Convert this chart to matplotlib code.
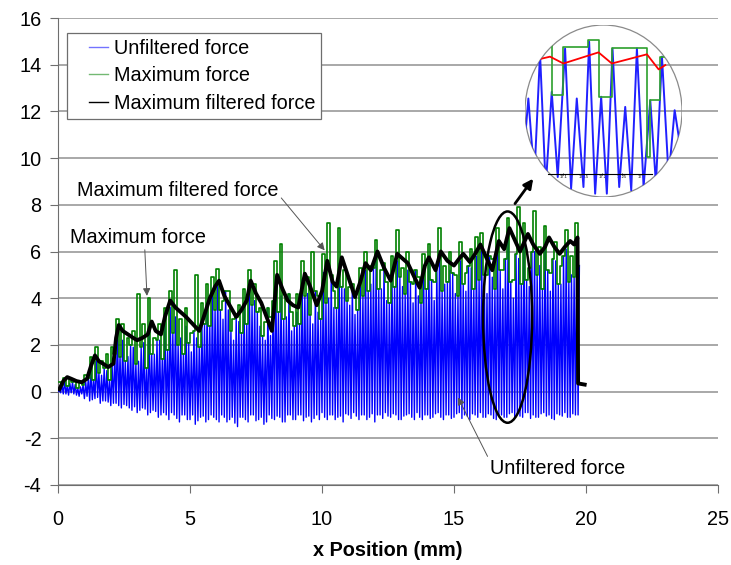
import numpy as np
import matplotlib
matplotlib.use('Agg')
import matplotlib.pyplot as plt
from matplotlib.patches import Ellipse

plt.rcParams['font.family'] = ['Liberation Sans', 'DejaVu Sans']
plt.rcParams['axes.unicode_minus'] = False

# one double oscillation every 0.2 mm: a tall peak followed by a medium one
cycle_x = np.round(np.arange(0.05, 19.7, 0.2), 2)
blue_peak = [0.05, 0.45, 0.35, 0.3, 0.2,
             0.4, 0.9, 1.3, 0.7, 0.9,
             1.1, 2.6, 2.2, 1.5, 1.9,
             1.3, 2.1, 2.7, 1.6, 2.2,
             2.9, 3.6, 3.2, 2.3, 2.8,
             1.7, 2.3, 3.0, 3.8, 4.3,
             4.5, 3.1, 3.5, 2.2, 3.0,
             3.6, 4.5, 3.9, 2.8, 2.2,
             2.4, 4.8, 4.1, 3.2, 2.6,
             3.4, 4.8, 4.2, 2.9, 3.4,
             5.1, 4.0, 3.6, 5.5, 4.4,
             3.7, 3.3, 4.5, 5.2, 4.6,
             5.7, 4.4, 3.9, 5.0, 5.6,
             4.5, 5.2, 3.8, 4.1, 5.1,
             5.5, 3.9, 5.7, 4.6, 5.2,
             4.2, 5.6, 4.3, 5.3, 5.8,
             6.0, 4.2, 4.9, 6.2, 4.4,
             6.7, 4.0, 5.7, 6.4, 4.5,
             6.0, 5.4, 6.3, 4.3, 5.6,
             4.6, 6.1, 5.0, 6.4]
blue_mid = [0.3, 0.25, 0.4, 0.15, 0.3,
            0.6, 0.5, 0.8, 1.0, 0.5,
            1.6, 1.5, 1.3, 2.0, 1.2,
            1.9, 1.0, 1.6, 2.2, 1.4,
            1.8, 2.5, 2.0, 1.6, 2.1,
            2.6, 1.9, 2.9, 2.8, 3.5,
            3.5, 4.3, 2.6, 3.2, 2.5,
            2.9, 3.7, 3.4, 2.4, 3.6,
            3.9, 3.4, 3.1, 4.2, 2.8,
            2.9, 4.1, 3.3, 4.3, 3.1,
            3.8, 5.0, 3.6, 4.5, 3.9,
            4.6, 3.5, 4.1, 4.3, 5.3,
            4.4, 5.5, 3.8, 4.5, 4.9,
            4.2, 4.7, 5.2, 3.8, 4.4,
            4.8, 5.4, 4.3, 4.7, 5.1,
            4.1, 4.6, 5.4, 4.4, 4.8,
            5.0, 5.8, 4.4, 5.2, 5.7,
            4.7, 5.9, 4.6, 4.8, 6.0,
            5.0, 4.4, 5.2, 5.7, 4.6,
            5.8, 4.7, 4.9, 5.4]
blue_trough = [0.0, -0.1, -0.15, -0.1, -0.2,
               -0.3, -0.4, -0.3, -0.5, -0.4,
               -0.6, -0.5, -0.7, -0.6, -0.8,
               -0.9, -0.7, -1.0, -0.8, -1.1,
               -0.9, -1.2, -1.0, -1.3, -1.0,
               -1.2, -1.4, -1.1, -1.3, -1.0,
               -1.2, -1.0, -1.3, -1.1, -1.5,
               -1.1, -1.3, -1.0, -1.2, -1.4,
               -1.0, -1.2, -1.1, -1.3, -1.0,
               -1.2, -1.0, -1.1, -1.3, -1.0,
               -0.9, -1.2, -1.0, -1.1, -1.3,
               -1.0, -0.9, -1.2, -1.0, -1.1,
               -1.3, -1.0, -0.9, -1.1, -1.0,
               -1.2, -1.0, -1.1, -0.9, -1.2,
               -1.0, -1.1, -0.9, -1.2, -1.0,
               -1.1, -0.9, -1.0, -1.2, -1.0,
               -0.9, -1.1, -1.0, -1.2, -1.0,
               -1.1, -0.9, -1.0, -1.1, -0.9,
               -1.0, -1.1, -0.9, -1.0, -1.2,
               -1.0, -0.9, -1.1, -1.0]
blue_trough2 = [-0.05, -0.1, -0.05, -0.15, -0.1,
                -0.2, -0.35, -0.25, -0.4, -0.45,
                -0.5, -0.6, -0.55, -0.7, -0.65,
                -0.8, -0.75, -0.9, -0.85, -1.0,
                -1.0, -0.9, -1.15, -1.0, -1.2,
                -1.0, -1.25, -1.05, -1.2, -1.1,
                -1.3, -1.1, -1.2, -1.35, -1.1,
                -1.2, -1.0, -1.25, -1.1, -1.3,
                -1.15, -1.05, -1.3, -1.0, -1.2,
                -1.0, -1.25, -1.05, -1.15, -1.2,
                -1.1, -1.0, -1.2, -1.05, -0.95,
                -1.15, -1.05, -1.0, -1.2, -0.95,
                -1.0, -1.15, -1.05, -0.95, -1.2,
                -1.05, -0.95, -1.2, -1.1, -1.0,
                -1.15, -0.95, -1.1, -1.0, -1.15,
                -0.95, -1.15, -1.05, -0.95, -1.1,
                -1.1, -0.95, -1.15, -1.0, -1.1,
                -0.95, -1.1, -1.05, -0.9, -1.15,
                -1.1, -0.95, -1.05, -1.15, -0.95,
                -1.05, -1.1, -0.95, -1.0]
green_max = [0.4, 0.6, 0.55, 0.45, 0.4,
             0.7, 1.5, 1.9, 1.3, 1.6,
             1.9, 3.1, 2.9, 2.3, 2.6,
             4.2, 2.9, 4.0, 2.3, 2.9,
             3.6, 4.3, 5.2, 3.1, 3.6,
             2.5, 5.0, 3.8, 4.6, 4.9,
             5.25, 3.9, 4.3, 3.1, 3.7,
             4.4, 5.2, 4.6, 3.6, 3.0,
             3.2, 5.6, 6.3, 4.0, 3.4,
             4.2, 5.6, 4.9, 6.0, 4.1,
             5.9, 7.2, 4.3, 7.0, 5.2,
             4.5, 4.1, 5.3, 6.0, 5.4,
             6.5, 5.2, 4.7, 5.8, 6.9,
             5.3, 6.0, 4.6, 4.9, 5.9,
             6.3, 4.7, 7.0, 5.4, 6.0,
             5.0, 6.4, 5.1, 6.1, 6.6,
             6.8, 5.0, 5.7, 7.0, 5.2,
             7.45, 4.8, 7.9, 7.2, 5.3,
             7.75, 6.2, 7.1, 5.1, 6.4,
             5.4, 6.9, 5.8, 7.2]

# filtered maximum (envelope), read point by point
black_x = [0.05, 0.2, 0.35, 0.5, 0.7, 0.9, 1.1, 1.25, 1.4, 1.55,
           1.7, 1.9, 2.1, 2.2, 2.3, 2.45, 2.65, 2.85, 3.0, 3.2,
           3.4, 3.55, 3.7, 3.9, 4.05, 4.25, 4.45, 4.65, 4.85, 5.1,
           5.35, 5.55, 5.75, 5.95, 6.1, 6.3, 6.5, 6.75, 6.95, 7.15,
           7.3, 7.5, 7.7, 7.9, 8.1, 8.3, 8.5, 8.7, 8.9, 9.1,
           9.35, 9.55, 9.8, 10.0, 10.2, 10.4, 10.55, 10.75, 11.0, 11.25,
           11.45, 11.65, 11.85, 12.1, 12.35, 12.6, 12.85, 13.05, 13.25, 13.5,
           13.7, 13.9, 14.05, 14.3, 14.5, 14.75, 15.0, 15.2, 15.35, 15.6,
           15.8, 16.0, 16.2, 16.45, 16.7, 16.9, 17.1, 17.3, 17.5, 17.8,
           18.0, 18.25, 18.45, 18.6, 18.8, 19.0, 19.2, 19.4, 19.55, 19.68,
           19.7, 19.95]
black_y = [0.1, 0.45, 0.62, 0.55, 0.45, 0.4, 0.55, 1.1, 1.55, 1.3,
           1.2, 1.05, 1.2, 2.3, 2.85, 2.6, 2.45, 2.3, 2.2, 2.3,
           2.45, 3.0, 2.6, 2.45, 3.2, 3.9, 3.6, 3.4, 3.2, 2.9,
           2.6, 3.3, 4.0, 4.5, 4.75, 4.1, 3.7, 3.2, 3.5, 3.9,
           4.75, 4.2, 3.8, 3.2, 2.6, 5.0, 4.4, 3.9, 3.7, 3.6,
           5.05, 4.5, 3.7, 4.3, 5.6, 4.7, 4.5, 5.75, 4.9, 4.05,
           4.7, 5.5, 5.2, 6.0, 5.3, 4.75, 5.9, 5.7, 5.5, 4.9,
           4.45, 5.4, 5.75, 5.2, 6.0, 5.6, 5.4, 5.7, 5.9, 5.55,
           5.9, 6.3, 5.8, 5.2, 6.45, 6.1, 7.0, 6.5, 6.0, 6.75,
           6.3, 5.9, 6.2, 6.6, 6.2, 5.9, 6.2, 6.45, 6.3, 6.6,
           0.35, 0.3]

# zoomed-in detail shown in the circle
inset_blue_x = [17.025, 17.040, 17.058, 17.075, 17.092, 17.110, 17.128, 17.150, 17.168,
                17.185, 17.205, 17.222, 17.240, 17.258, 17.275, 17.292, 17.312, 17.330,
                17.348, 17.365, 17.385, 17.405, 17.422, 17.440, 17.460, 17.478, 17.495]
inset_blue_y = [0.68, 3.84, -0.18, 6.15, -0.69, 4.18, -0.18, 6.40, -0.77,
                3.84, -0.69, 6.75, -1.03, 3.93, -1.03, 6.40, -0.69, 3.41,
                -0.86, 6.40, -0.69, 3.75, -0.52, 5.98, -0.18, 3.24, 1.36]
inset_green_x = [17.105, 17.112, 17.145, 17.220, 17.252, 17.290, 17.395, 17.405, 17.435, 17.445]
inset_green_y = [6.66, 4.01, 6.49, 6.83, 3.93, 6.40, 0.85, 3.75, 5.98, 5.98]
inset_red_x = [17.070, 17.105, 17.145, 17.250, 17.290, 17.395, 17.430, 17.450]
inset_red_y = [5.84, 5.98, 5.63, 6.20, 5.63, 6.10, 5.33, 5.55]
inset_ticks = [17.145, 17.205, 17.262, 17.320, 17.380]
inset_tick_labels = ['17.1', '17.15', '17.2', '17.25', '17.3']

W, H = 731, 565
FS = 14.3
fig = plt.figure(figsize=(W / 100, H / 100), dpi=100)
ax = fig.add_axes([58 / W, 1 - 485 / H, 660 / W, 467 / H])

# trough, tall peak, trough, medium peak within each 0.2 mm
blue_x = np.column_stack([cycle_x - 0.05, cycle_x, cycle_x + 0.05, cycle_x + 0.1]).ravel()
blue_y = np.column_stack([blue_trough, blue_peak, blue_trough2, blue_mid]).ravel()
green_x = np.column_stack([cycle_x, cycle_x + 0.1]).ravel()
green_y = np.column_stack([green_max, blue_mid]).ravel()

ax.plot(blue_x, blue_y, color='#0000ff', lw=1.0, label='Unfiltered force', zorder=3)
ax.step(green_x, green_y, where='mid', color='#008000', lw=1.2, label='Maximum force', zorder=4)
ax.plot(black_x, black_y, color='black', lw=2.8, label='Maximum filtered force', zorder=5)

ax.set_xlim(0, 25)
ax.set_ylim(-4, 16)
ax.set_xticks(range(0, 26, 5))
ax.set_yticks(range(-4, 17, 2))
ax.yaxis.grid(True, color='#9a9a9a', lw=1.2)
ax.set_axisbelow(True)
for s in ['top', 'right']:
    ax.spines[s].set_visible(False)
for s in ['left', 'bottom']:
    ax.spines[s].set_color('#6e6e6e')
ax.tick_params(axis='both', colors='#6e6e6e', labelcolor='black', labelsize=FS, length=6, direction='out')
ax.tick_params(axis='x', pad=12)
ax.tick_params(axis='y', pad=6)
ax.set_xlabel('x Position (mm)', fontsize=FS, fontweight='bold', labelpad=9)

leg = ax.legend(loc='upper left', bbox_to_anchor=(67 / W, 1 - 33 / H), bbox_transform=fig.transFigure,
                borderaxespad=0, fontsize=FS, handlelength=1.75, handletextpad=0.3, borderpad=0.3,
                labelspacing=0.42, fancybox=False, framealpha=1, edgecolor='#6e6e6e')
leg.get_frame().set_linewidth(0.9)
for h in leg.get_lines():
    h.set_linewidth(1.0)
    h.set_alpha(0.55 if h.get_color() != 'black' else 1)
    xd = np.asarray(h.get_xdata(), float)
    yd = np.asarray(h.get_ydata(), float)
    h.set_data([xd[0] + 0.45 * (xd[-1] - xd[0]), xd[-1]], [yd[0], yd[-1]])

arrow = dict(arrowstyle='-|>', color='#555555', lw=0.7, mutation_scale=11, shrinkA=0, shrinkB=0)
ax.annotate('Maximum filtered force', xy=(10.1, 6.05), xytext=(0.72, 8.6), fontsize=FS,
            va='center', arrowprops=dict(arrow, relpos=(1, 0.3)))
ax.annotate('Maximum force', xy=(3.37, 4.1), xytext=(0.45, 6.6), fontsize=FS,
            va='center', arrowprops=dict(arrow, relpos=(0.55, 0.0)))
ax.annotate('Unfiltered force', xy=(15.15, -0.25), xytext=(16.36, -3.3), fontsize=FS,
            va='center', arrowprops=dict(arrow, relpos=(0.0, 0.9)))

ax.add_patch(Ellipse((17.03, 3.19), 1.86, 9.05, fill=False, ec='black', lw=1.8, zorder=6))
ax.annotate('', xy=(18.0, 9.12), xytext=(17.31, 8.05),
            arrowprops=dict(arrowstyle='-|>', color='black', lw=2, mutation_scale=14, shrinkA=0, shrinkB=0))

# circular magnifier
ins = fig.add_axes([525 / W, 1 - 197 / H, 157 / W, 172 / H])
ins.set_facecolor('none')
ins.set_xlim(17.03, 17.50)
ins.set_ylim(-1.2, 7.6)
clip = Ellipse((0.5, 0.5), 1, 1, transform=ins.transAxes)
lines = ins.plot(inset_blue_x, inset_blue_y, color='#2020ff', lw=1.4)
lines += ins.plot(inset_green_x, inset_green_y, color='#2ca02c', lw=1.2, drawstyle='steps-post')
lines += ins.plot(inset_red_x, inset_red_y, color='#ff0000', lw=1.3)
for ln in lines:
    ln.set_clip_path(clip)
ins.add_patch(Ellipse((0.5, 0.5), 1, 1, transform=ins.transAxes, fill=False, ec='#8a8a8a', lw=0.9))
for s in ['top', 'right', 'left']:
    ins.spines[s].set_visible(False)
ins.spines['bottom'].set_position(('data', 0))
ins.spines['bottom'].set_bounds(17.10, 17.41)
ins.spines['bottom'].set_linewidth(0.8)
ins.set_yticks([])
ins.set_xticks(inset_ticks)
ins.set_xticklabels(inset_tick_labels, fontsize=3)
ins.tick_params(axis='x', length=1.5, width=0.5, pad=0.5, direction='inout')

fig.savefig('out.png', dpi=100)
